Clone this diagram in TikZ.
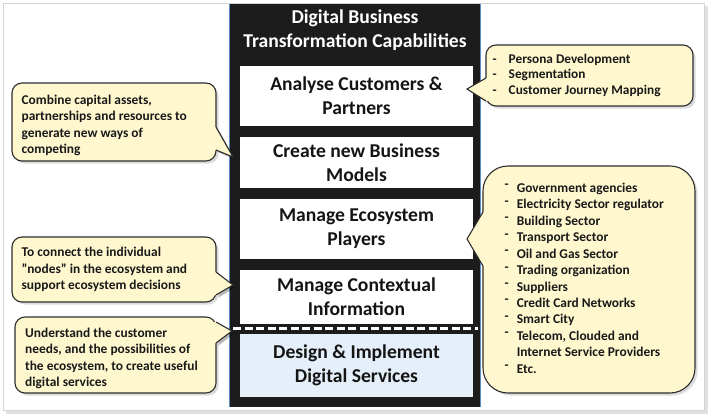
\documentclass[tikz,border=0pt]{standalone}
\usepackage{fontspec}
\setmainfont{Carlito}
\usetikzlibrary{shadows}
\definecolor{callfill}{HTML}{FFF8CF}
\definecolor{callborder}{HTML}{2E2E2E}
\definecolor{colblack}{HTML}{1C1C1C}
\definecolor{colblue}{HTML}{5B8DC8}
\definecolor{lightblue}{HTML}{E4EFFA}
\definecolor{framegray}{HTML}{D4D4D4}
\begin{document}
\begin{tikzpicture}[x=1pt,y=-1pt,
  capbox/.style={draw=none, fill=white, minimum width=233pt, inner sep=0pt, align=center,
    font=\fontsize{19.6}{23.8}\selectfont\bfseries, text=black!92},
  bubble/.style={draw=callborder, line width=1.1pt, fill=callfill, rounded corners=10pt,
    drop shadow={opacity=0.28, shadow xshift=2.5pt, shadow yshift=-2.5pt}, inner sep=0pt},
  btext/.style={align=left, font=\fontsize{13.4}{16.3}\selectfont\bfseries, text=black!90, inner sep=0pt},
  pshadow/.style={fill=black, opacity=0.28},
  pfill/.style={fill=callfill},
  pedge/.style={draw=callborder, line width=1.1pt, line join=miter},
]
\useasboundingbox (0,0) rectangle (710,418);
% outer frame
\fill[black!12] (6,6) rectangle (708,414);
\draw[framegray, fill=white, line width=0.8pt] (3,3) rectangle (704,410);

% central column
\fill[colblack] (229.5,4) rectangle (480.5,407);
\draw[colblue, line width=0.8pt] (229.5,4) -- (229.5,407);
\draw[colblue, line width=0.8pt] (480.5,4) -- (480.5,407);

\node[align=center, text=white, font=\fontsize{19.6}{24}\selectfont\bfseries] (title) at (355,30)
  {Digital Business\\Transformation Capabilities};

\node[capbox, minimum height=60pt] (b1) at (356.5,96) {Analyse Customers \&\\Partners};
\node[capbox, minimum height=51pt] (b2) at (356.5,162.5) {Create new Business\\Models};
\node[capbox, minimum height=60pt] (b3) at (356.5,229) {Manage Ecosystem\\Players};
\node[capbox, minimum height=54pt] (b4) at (356.5,297) {Manage Contextual\\Information};
\node[capbox, fill=lightblue, minimum height=63pt] (b5) at (356.5,365.5) {Design \& Implement\\Digital Services};
\draw[white, line width=3pt, dash pattern=on 8pt off 3.5pt] (233,328.5) -- (478,328.5);

% pointer tips
\coordinate (t1) at (233,157);
\coordinate (t2) at (233,285);
\coordinate (t3) at (232,331);
\coordinate (t4) at (467,89);
\coordinate (t5) at (467,239);

% pointer shadows
\fill[pshadow] (218.5,129.5) -- (235.5,159.5) -- (218.5,152.5) -- cycle;
\fill[pshadow] (218.5,274.5) -- (235.5,287.5) -- (218.5,297.5) -- cycle;
\fill[pshadow] (218.5,324.5) -- (234.5,333.5) -- (218.5,345.5) -- cycle;
\fill[pshadow] (488.5,80.5) -- (469.5,91.5) -- (488.5,103.5) -- cycle;
\fill[pshadow] (485.5,214.5) -- (469.5,241.5) -- (485.5,268.5) -- cycle;

% callout bodies
\node[bubble, minimum width=204pt, minimum height=78pt] (c1) at (114,122) {};
\node[bubble, minimum width=204pt, minimum height=65pt] (c2) at (114,269.5) {};
\node[bubble, minimum width=201pt, minimum height=76pt] (c3) at (115.5,355) {};
\node[bubble, minimum width=207pt, minimum height=61pt] (c4) at (589.5,75.5) {};
\node[bubble, rounded corners=25pt, minimum width=212pt, minimum height=227pt] (c5) at (589,279.5) {};

% callout texts
\node[btext, anchor=west] (c1t) at ([xshift=10pt, yshift=-3.5pt]c1.west)
  {Combine capital assets,\\partnerships and resources to\\generate new ways of\\competing};
\node[btext, anchor=west] (c2t) at ([xshift=10pt]c2.west)
  {To connect the individual\\"nodes" in the ecosystem and\\support ecosystem decisions};
\node[btext, anchor=west] (c3t) at ([xshift=10.5pt, yshift=-3.5pt]c3.west)
  {Understand the customer\\needs, and the possibilities of\\the ecosystem, to create useful\\digital services};
\node[btext, anchor=west, font=\fontsize{13.3}{15.5}\selectfont\bfseries] (c4t) at ([xshift=7pt]c4.west)
  {\begin{tabular}{@{}l@{\hspace{12pt}}l@{}}
   -&Persona Development\\
   -&Segmentation\\
   -&Customer Journey Mapping
   \end{tabular}};
\node[btext, anchor=west, font=\fontsize{13.4}{16.45}\selectfont\bfseries] (c5t) at ([xshift=22pt]c5.west)
  {\begin{tabular}{@{}l@{\hspace{8pt}}l@{}}
   \raisebox{3.5pt}{-}&Government agencies\\
   \raisebox{3.5pt}{-}&Electricity Sector regulator\\
   \raisebox{3.5pt}{-}&Building Sector\\
   \raisebox{3.5pt}{-}&Transport Sector\\
   \raisebox{3.5pt}{-}&Oil and Gas Sector\\
   \raisebox{3.5pt}{-}&Trading organization\\
   \raisebox{3.5pt}{-}&Suppliers\\
   \raisebox{3.5pt}{-}&Credit Card Networks\\
   \raisebox{3.5pt}{-}&Smart City\\
   \raisebox{3.5pt}{-}&Telecom, Clouded and\\
   &Internet Service Providers\\
   \raisebox{3.5pt}{-}&Etc.
   \end{tabular}};

% pointers
\fill[pfill] (214,127) -- (216,127) -- (t1) -- (216,150) -- (214,150) -- cycle;
\draw[pedge] (216,127) -- (t1) -- (216,150);
\fill[pfill] (214,272) -- (216,272) -- (t2) -- (216,295) -- (214,295) -- cycle;
\draw[pedge] (216,272) -- (t2) -- (216,295);
\fill[pfill] (214,322) -- (216,322) -- (t3) -- (216,343) -- (214,343) -- cycle;
\draw[pedge] (216,322) -- (t3) -- (216,343);
\fill[pfill] (488,78) -- (486,78) -- (t4) -- (486,101) -- (488,101) -- cycle;
\draw[pedge] (486,78) -- (t4) -- (486,101);
\fill[pfill] (485,212) -- (483,212) -- (t5) -- (483,266) -- (485,266) -- cycle;
\draw[pedge] (483,212) -- (t5) -- (483,266);
\end{tikzpicture}
\end{document}
